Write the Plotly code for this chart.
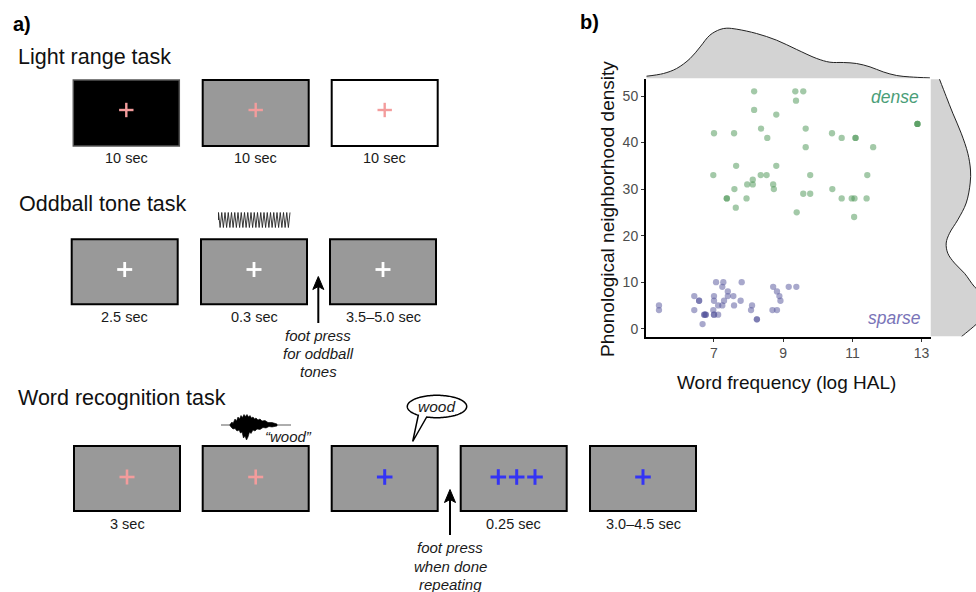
import numpy as np
import plotly.graph_objects as go

W, H = 976, 592
FONT = "Liberation Sans, Arial, Helvetica, sans-serif"

# ---------------- data (panel b) ----------------
dense_x = [8.16, 9.35, 9.58, 9.37, 8.16, 8.80, 12.88, 12.88, 12.88, 7.00, 7.58, 8.36, 9.65,
           8.54, 10.41, 10.69, 11.09, 11.09, 9.65, 11.60, 7.64, 8.80, 6.98, 8.35, 8.52, 9.78,
           11.43, 8.12, 7.96, 8.12, 8.71, 8.73, 7.59, 10.42, 7.37, 7.37, 7.94, 9.58, 9.78,
           10.69, 10.98, 11.06, 11.41, 7.63, 9.39, 11.05]
dense_y = [51, 51, 51, 49, 47, 46, 44, 44, 44, 42, 42, 43, 43,
           41, 42, 41, 41, 41, 39, 39, 35, 35, 33, 33, 33, 33,
           33, 32, 31, 31, 31, 30, 30, 30, 28, 28, 28, 29, 29,
           28, 28, 28, 28, 26, 25, 24]

sparse_x = [5.41, 5.41, 6.43, 6.43, 6.57, 6.57, 6.67, 6.72, 6.72, 6.76, 6.76, 7.00, 7.00,
            6.98, 7.00, 7.00, 7.12, 7.06, 7.27, 7.24, 7.40, 7.40, 7.29, 7.12, 7.24, 7.56,
            7.58, 7.77, 7.80, 8.10, 8.07, 8.24, 8.24, 8.71, 8.82, 8.89, 8.92, 8.69, 8.82,
            9.16, 9.38]
sparse_y = [5, 4, 7, 4, 6, 6, 1, 3, 3, 3, 3, 6, 7,
            4, 3, 3, 3, 10, 10, 9, 8, 7, 6, 5, 5, 7,
            5, 6, 10, 5, 4, 2, 2, 9, 8, 7, 6, 4, 4,
            9, 9]

# marginal densities (arbitrary density units)
top_kde_x = [5.05, 5.54, 5.92, 6.31, 6.60, 6.88, 7.17, 7.37, 7.66, 8.23, 8.81, 9.39, 9.97,
             10.35, 10.74, 11.12, 11.51, 11.89, 12.28, 12.66, 13.24]
top_kde_d = [2.3, 5, 10, 20, 31.6, 43.3, 49, 50.3, 49.3, 45, 38.3, 29, 20,
             16.3, 16, 15, 11.6, 6.6, 3, 1.6, 0.6]

right_kde_y = [-1.7, -1, 1, 3, 5, 7, 9, 11.9, 14.1, 16.2, 18.4, 20.5, 23.4, 27, 31.3,
               34.1, 37.7, 42, 46.3, 49.9, 53.6]
right_kde_d = [31, 35, 46, 55, 58, 54, 44, 34, 24, 17.3, 15.7, 19, 27.3, 35.7, 39.7,
               40, 37.3, 30.7, 22.3, 15.7, 9]

x_ticks = [7, 9, 11, 13]
y_ticks = [0, 10, 20, 30, 40, 50]

# ---------------- panel a) texts ----------------
light_labels = ["10 sec", "10 sec", "10 sec"]
odd_labels = ["2.5 sec", "0.3 sec", "3.5–5.0 sec"]
word_labels = ["3 sec", "", "", "0.25 sec", "3.0–4.5 sec"]

# ---------------- layout geometry (pixels) ----------------
def px(xp):
    return xp / W

def py(yp):
    return 1 - yp / H

PL, PR, PT, PB = 646, 930.5, 78.5, 336.5
XR = [5.035, 13.257]
YR = [-1.68, 53.76]

fig = go.Figure()

# top marginal
fig.add_trace(go.Scatter(x=top_kde_x, y=top_kde_d, mode="lines", line=dict(color="#222", width=1, shape="spline"),
                         fill="tozeroy", fillcolor="#d3d3d3", xaxis="x3", yaxis="y3",
                         hoverinfo="skip", showlegend=False))
# right marginal
fig.add_trace(go.Scatter(x=right_kde_d, y=right_kde_y, mode="lines", line=dict(color="#222", width=1, shape="spline"),
                         fill="tozerox", fillcolor="#d3d3d3", xaxis="x4", yaxis="y4",
                         hoverinfo="skip", showlegend=False))
# scatter
fig.add_trace(go.Scatter(x=dense_x, y=dense_y, mode="markers",
                         marker=dict(size=6.3, color="rgba(71,147,81,0.5)", line=dict(width=0)),
                         showlegend=False, name="dense"))
fig.add_trace(go.Scatter(x=sparse_x, y=sparse_y, mode="markers",
                         marker=dict(size=6.3, color="rgba(81,81,153,0.5)", line=dict(width=0)),
                         showlegend=False, name="sparse"))
# dummy trace for the pixel overlay axis
fig.add_trace(go.Scatter(x=[0], y=[0], mode="markers", marker=dict(opacity=0), xaxis="x5", yaxis="y5",
                         hoverinfo="skip", showlegend=False))

shapes = []
annos = []

def rect(x0, y0, x1, y1, fill, line="black", lw=2):
    shapes.append(dict(type="rect", xref="x5", yref="y5", x0=x0, y0=y0, x1=x1, y1=y1,
                       fillcolor=fill, line=dict(color=line, width=lw)))

def cross(cx, cy, color, half=7.5, lw=2.6):
    shapes.append(dict(type="line", xref="x5", yref="y5", x0=cx - half, x1=cx + half, y0=cy, y1=cy,
                       line=dict(color=color, width=lw)))
    shapes.append(dict(type="line", xref="x5", yref="y5", x0=cx, x1=cx, y0=cy - half, y1=cy + half,
                       line=dict(color=color, width=lw)))

def text(x, y, s, size=14.5, color="#1a1a1a", xanchor="center", bold=False, italic=False):
    if bold:
        s = "<b>" + s + "</b>"
    if italic:
        s = "<i>" + s + "</i>"
    annos.append(dict(x=x, y=y, xref="x5", yref="y5", text=s, showarrow=False, xanchor=xanchor,
                      yanchor="middle", font=dict(family=FONT, size=size, color=color)))

def arrow(x, ytip, ytail):
    shapes.append(dict(type="line", xref="x5", yref="y5", x0=x, x1=x, y0=ytail, y1=ytip + 8,
                       line=dict(color="black", width=2)))
    shapes.append(dict(type="path", xref="x5", yref="y5",
                       path=f"M {x},{ytip} L {x-5.5},{ytip+13} L {x},{ytip+10} L {x+5.5},{ytip+13} Z",
                       fillcolor="black", line=dict(color="black", width=1)))

BW, BH = 106, 65
PINK = "#f39c9c"
BLUE = "#3434f4"
ITAL = 15

# ---- Light range task ----
text(11, 23.5, "a)", size=20, color="black", xanchor="left", bold=True)
text(16, 57, "Light range task", size=21.5, color="#111", xanchor="left")
light_left = [73.3, 202.7, 331.7]
light_fill = ["black", "#999999", "white"]
for i, (lx, f) in enumerate(zip(light_left, light_fill)):
    if i == 0:
        rect(lx, 80, lx + BW, 146, f, line="#555", lw=1.5)
    else:
        rect(lx, 80, lx + BW, 146, f)
    cross(lx + BW / 2, 110, PINK, half=7.2, lw=2.4)
    text(lx + BW / 2, 158, light_labels[i])

# ---- Oddball tone task ----
text(17, 204, "Oddball tone task", size=21.5, color="#111", xanchor="left")
odd_left = [71.7, 201, 330]
for i, lx in enumerate(odd_left):
    rect(lx, 239.3, lx + BW, 304.3, "#999999")
    cross(lx + BW / 2, 269.5, "white", half=7.5, lw=2.8)
    text(lx + BW / 2, 317, odd_labels[i])
# tone squiggle
zz = ["M 218.5,220"]
n_half = 44
for k in range(n_half + 1):
    xk = 218.5 + k * (71.5 / n_half)
    yk = 212.5 if k % 2 == 0 else 227.5
    zz.append(f"L {xk:.2f},{yk}")
shapes.append(dict(type="path", xref="x5", yref="y5", path=" ".join(zz), line=dict(color="#222", width=0.9)))
arrow(318.3, 276.5, 323)
text(318, 335.5, "foot press", size=ITAL, italic=True)
text(318, 353.5, "for oddball", size=ITAL, italic=True)
text(318, 371.5, "tones", size=ITAL, italic=True)

# ---- Word recognition task ----
text(16, 398, "Word recognition task", size=21.5, color="#111", xanchor="left")
word_left = [74, 202.7, 331.7, 460.7, 590]
for i, lx in enumerate(word_left):
    rect(lx, 446, lx + BW, 511, "#999999")
    text(lx + BW / 2, 523.5, word_labels[i])
cross(74 + BW / 2, 477, PINK, half=7.5, lw=2.6)
cross(202.7 + BW / 2, 477, PINK, half=7.5, lw=2.6)
cross(331.7 + BW / 2, 477, BLUE, half=7.8, lw=3)
for cx in [498.3, 516.7, 535]:
    cross(cx, 477, BLUE, half=7.8, lw=3)
cross(590 + BW / 2, 477, BLUE, half=7.8, lw=3)

# waveform
shapes.append(dict(type="line", xref="x5", yref="y5", x0=221, x1=291, y0=425, y1=425,
                   line=dict(color="#333", width=0.8)))
wave_top = [(230, 424.5), (232, 422), (233, 423.5), (235, 419), (236.5, 421), (238, 417), (239.5, 419),
            (241, 415.5), (242.5, 417.5), (244, 414.5), (245.5, 416.5), (247, 414.5), (248.5, 417),
            (250, 415.5), (251.5, 418), (253, 417), (254.5, 419), (256, 418), (258, 420),
            (260, 419), (262, 421), (265, 420.5), (268, 422.5), (272, 422.5), (277, 424)]
wave_bot = [(277, 426), (272, 427), (269, 426.5), (266, 428), (263, 427.5), (260, 429.5),
            (257, 429), (255, 431), (253, 430), (251, 433.5), (249.5, 432), (248, 437), (246.5, 440),
            (245, 436), (243.5, 438), (242, 432), (240.5, 433), (239, 430), (237, 431),
            (235, 428.5), (233, 429), (231, 427), (230, 425.5)]
wp = "M " + " L ".join(f"{a},{b}" for a, b in wave_top + wave_bot) + " Z"
shapes.append(dict(type="path", xref="x5", yref="y5", path=wp, fillcolor="black", line=dict(color="black", width=0.6)))
text(288.5, 436, "“wood”", size=15, italic=True)

# speech bubble
cx_b, cy_b, rx_b, ry_b = 437, 406.5, 29.7, 11.2
ang = np.radians(np.linspace(129, 470.3, 120))
bx = cx_b + rx_b * np.cos(ang)
by = cy_b + ry_b * np.sin(ang)
bp = "M " + " L ".join(f"{a:.2f},{b:.2f}" for a, b in zip(bx, by)) + " L 412.7,441.5 Z"
shapes.append(dict(type="path", xref="x5", yref="y5", path=bp, fillcolor="white", line=dict(color="black", width=1.5)))
text(437, 406, "wood", size=15.5, italic=True)

arrow(450, 489.5, 535)
text(450, 547.5, "foot press", size=ITAL, italic=True)
text(450, 566, "when done", size=ITAL, italic=True)
text(450, 584, "repeating", size=ITAL, italic=True)

# ---- panel b texts ----
text(578, 22, "b)", size=20, color="black", xanchor="left", bold=True)
text(786.5, 382, "Word frequency (log HAL)", size=19, color="#111")
annos.append(dict(x=607, y=209, xref="x5", yref="y5", text="Phonological neighborhood density",
                  showarrow=False, textangle=-90, font=dict(family=FONT, size=19, color="#111")))
text(921, 97, "dense", size=17.5, color="#4a9e78", xanchor="right", italic=True)
text(923, 318, "sparse", size=17.5, color="#7a74b8", xanchor="right", italic=True)

axis_common = dict(showgrid=False, zeroline=False, showline=True, linecolor="black", linewidth=2,
                   ticks="outside", ticklen=3, tickwidth=1.3, tickcolor="#333",
                   tickfont=dict(family=FONT, size=14, color="#4d4d4d"))

fig.update_layout(
    width=W, height=H, margin=dict(l=0, r=0, t=0, b=0),
    paper_bgcolor="white", plot_bgcolor="rgba(0,0,0,0)",
    xaxis=dict(domain=[px(PL), px(PR)], range=XR, anchor="y", tickvals=x_ticks, **axis_common),
    yaxis=dict(domain=[py(PB), py(PT)], range=YR, anchor="x", tickvals=y_ticks, **axis_common),
    xaxis3=dict(domain=[px(PL), px(PR)], range=XR, anchor="y3", visible=False),
    yaxis3=dict(domain=[py(PT), py(20)], range=[0, PT - 20], anchor="x3", visible=False),
    xaxis4=dict(domain=[px(PR), 1.0], range=[0, W - PR], anchor="y4", visible=False),
    yaxis4=dict(domain=[py(PB), py(PT)], range=YR, anchor="x4", visible=False),
    xaxis5=dict(domain=[0, 1], range=[0, W], anchor="y5", visible=False, fixedrange=True),
    yaxis5=dict(domain=[0, 1], range=[H, 0], anchor="x5", visible=False, fixedrange=True),
    shapes=shapes, annotations=annos,
)

fig.write_html("out.html")
